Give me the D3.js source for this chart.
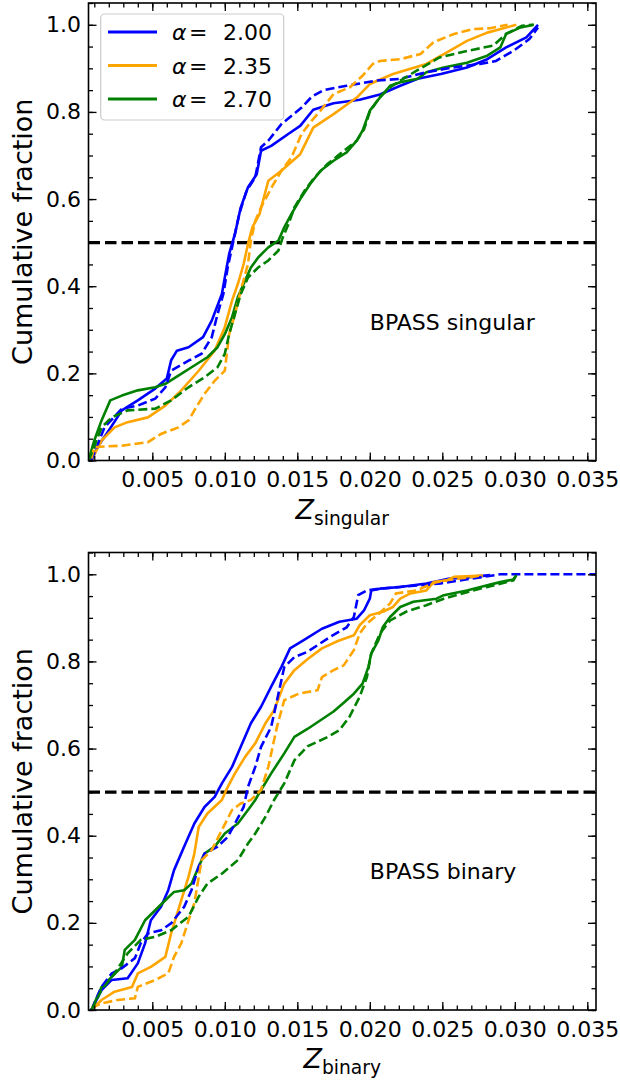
<!DOCTYPE html>
<html>
<head>
<meta charset="utf-8">
<script src="https://cdn.jsdelivr.net/npm/d3@7"></script>
<style>
  body { margin: 0; background: #fff; }
  text { font-family: "DejaVu Sans", sans-serif; }
</style>
</head>
<body>
<script>
// tick values
var xTicks = [0.005, 0.010, 0.015, 0.020, 0.025, 0.030, 0.035];
var yTicks = [0.0, 0.2, 0.4, 0.6, 0.8, 1.0];
var alphas = ["2.00", "2.35", "2.70"];
var colors = ["#0000ff", "#ffa500", "#008000"];

// cumulative fractions, [Z, fraction]
// BPASS singular
var singA200 = [[0.0008,0],[0.0012,0.03],[0.0020,0.069],[0.0029,0.115],[0.0040,0.138],[0.0052,0.165],[0.0060,0.188],[0.0063,0.23],[0.0067,0.252],[0.0075,0.26],[0.0085,0.283],[0.0091,0.321],[0.0098,0.382],[0.0100,0.42],[0.0103,0.474],[0.0107,0.52],[0.0111,0.581],[0.0116,0.627],[0.0122,0.657],[0.0125,0.711],[0.0132,0.722],[0.0144,0.75],[0.0152,0.768],[0.0161,0.805],[0.0175,0.82],[0.0193,0.828],[0.0207,0.84],[0.0221,0.86],[0.0233,0.876],[0.0249,0.887],[0.0267,0.902],[0.0281,0.921],[0.0294,0.948],[0.0308,0.971],[0.0316,1.0]];
var singA200d = [[0.0008,0],[0.0017,0.076],[0.0029,0.119],[0.0040,0.126],[0.0052,0.142],[0.0059,0.168],[0.0063,0.206],[0.0075,0.229],[0.0084,0.245],[0.0091,0.283],[0.0095,0.336],[0.0099,0.382],[0.0102,0.443],[0.0106,0.505],[0.0110,0.566],[0.0115,0.619],[0.0121,0.65],[0.0125,0.719],[0.0130,0.734],[0.0139,0.772],[0.0153,0.81],[0.0160,0.835],[0.0168,0.85],[0.0184,0.86],[0.0205,0.872],[0.0221,0.876],[0.0239,0.891],[0.0257,0.902],[0.0276,0.91],[0.0287,0.917],[0.0299,0.94],[0.0310,0.967],[0.0316,0.994]];
var singA235 = [[0.0008,0],[0.0015,0.046],[0.0024,0.076],[0.0033,0.088],[0.0047,0.099],[0.0059,0.126],[0.0070,0.161],[0.0082,0.206],[0.0093,0.252],[0.0100,0.306],[0.0105,0.367],[0.0109,0.405],[0.0113,0.451],[0.0116,0.497],[0.0119,0.535],[0.0124,0.566],[0.0130,0.642],[0.0139,0.665],[0.0152,0.703],[0.0161,0.764],[0.0175,0.795],[0.0191,0.833],[0.0200,0.864],[0.0216,0.887],[0.0239,0.91],[0.0255,0.94],[0.0267,0.963],[0.0281,0.982],[0.0301,1.0]];
var singA235d = [[0.0008,0.005],[0.0010,0.031],[0.0029,0.034],[0.0047,0.042],[0.0056,0.061],[0.0068,0.076],[0.0075,0.092],[0.0079,0.115],[0.0086,0.153],[0.0093,0.183],[0.0100,0.206],[0.0103,0.29],[0.0107,0.336],[0.0111,0.39],[0.0116,0.451],[0.0118,0.505],[0.0121,0.55],[0.0125,0.581],[0.0132,0.625],[0.0139,0.665],[0.0146,0.696],[0.0153,0.75],[0.0160,0.78],[0.0166,0.803],[0.0175,0.841],[0.0186,0.856],[0.0195,0.883],[0.0202,0.91],[0.0207,0.917],[0.0221,0.921],[0.0235,0.933],[0.0244,0.96],[0.0258,0.979],[0.0271,0.99],[0.0283,0.992],[0.0295,1.0]];
var singA270 = [[0.0006,0],[0.0010,0.046],[0.0015,0.092],[0.0021,0.138],[0.0029,0.149],[0.0040,0.161],[0.0052,0.168],[0.0059,0.176],[0.0068,0.195],[0.0079,0.218],[0.0088,0.237],[0.0095,0.26],[0.0100,0.29],[0.0105,0.329],[0.0109,0.375],[0.0114,0.413],[0.0118,0.443],[0.0123,0.466],[0.0130,0.489],[0.0137,0.505],[0.0141,0.535],[0.0146,0.566],[0.0152,0.60],[0.0159,0.635],[0.0166,0.665],[0.0175,0.688],[0.0184,0.707],[0.0191,0.734],[0.0195,0.757],[0.0200,0.803],[0.0207,0.833],[0.0214,0.86],[0.0221,0.868],[0.0233,0.876],[0.0239,0.891],[0.0251,0.902],[0.0267,0.913],[0.0281,0.929],[0.0290,0.948],[0.0294,0.979],[0.0304,0.994],[0.0313,1.0]];
var singA270d = [[0.0006,0],[0.0008,0.015],[0.0015,0.076],[0.0022,0.099],[0.0033,0.115],[0.0052,0.119],[0.0063,0.138],[0.0075,0.168],[0.0086,0.191],[0.0095,0.214],[0.0100,0.245],[0.0103,0.29],[0.0107,0.336],[0.0111,0.382],[0.0116,0.42],[0.0123,0.443],[0.0130,0.459],[0.0137,0.482],[0.0140,0.512],[0.0144,0.543],[0.0148,0.581],[0.0155,0.619],[0.0162,0.65],[0.0171,0.681],[0.0180,0.705],[0.0191,0.734],[0.0196,0.76],[0.0200,0.80],[0.0207,0.835],[0.0214,0.856],[0.0221,0.872],[0.0232,0.894],[0.0248,0.925],[0.0267,0.94],[0.0285,0.952],[0.0294,0.979],[0.0305,0.998],[0.0313,1.0]];

// BPASS binary
var binA200 = [[0.0008,0],[0.0015,0.046],[0.0022,0.069],[0.0033,0.073],[0.0040,0.107],[0.0045,0.153],[0.0049,0.206],[0.0056,0.237],[0.0061,0.275],[0.0065,0.321],[0.0072,0.375],[0.0079,0.428],[0.0086,0.466],[0.0093,0.489],[0.0098,0.52],[0.0105,0.558],[0.0111,0.604],[0.0118,0.658],[0.0125,0.696],[0.0132,0.742],[0.0139,0.787],[0.0145,0.83],[0.0155,0.85],[0.0167,0.875],[0.0179,0.891],[0.0191,0.898],[0.0196,0.917],[0.0200,0.944],[0.0201,0.963],[0.0207,0.967],[0.0221,0.971],[0.0239,0.979],[0.0255,0.99],[0.0271,0.994],[0.0283,0.998]];
var binA200d = [[0.0008,0],[0.0015,0.053],[0.0022,0.084],[0.0029,0.096],[0.0038,0.119],[0.0042,0.153],[0.0047,0.176],[0.0056,0.183],[0.0063,0.199],[0.0072,0.237],[0.0077,0.275],[0.0082,0.329],[0.0086,0.359],[0.0095,0.375],[0.0102,0.397],[0.0107,0.428],[0.0113,0.466],[0.0116,0.512],[0.0121,0.558],[0.0125,0.604],[0.0132,0.65],[0.0137,0.726],[0.0141,0.787],[0.0148,0.81],[0.0157,0.822],[0.0172,0.855],[0.0184,0.878],[0.0189,0.902],[0.0192,0.952],[0.0198,0.963],[0.0207,0.967],[0.0249,0.979],[0.0262,0.986],[0.0280,0.995],[0.0290,1.0],[0.0360,1.0]];
var binA235 = [[0.0008,0],[0.0015,0.023],[0.0024,0.042],[0.0036,0.053],[0.0040,0.084],[0.0049,0.099],[0.0059,0.122],[0.0063,0.176],[0.0070,0.252],[0.0075,0.306],[0.0079,0.359],[0.0082,0.42],[0.0088,0.451],[0.0098,0.482],[0.0101,0.505],[0.0107,0.543],[0.0114,0.581],[0.0121,0.612],[0.0128,0.658],[0.0134,0.688],[0.0141,0.749],[0.0148,0.78],[0.0157,0.805],[0.0167,0.83],[0.0178,0.847],[0.0189,0.86],[0.0193,0.883],[0.0200,0.906],[0.0209,0.914],[0.0216,0.925],[0.0221,0.944],[0.0228,0.956],[0.0239,0.963],[0.0244,0.982],[0.0253,0.986],[0.0258,0.994],[0.0278,0.997]];
var binA235d = [[0.0008,0.005],[0.0015,0.015],[0.0026,0.023],[0.0038,0.027],[0.0040,0.053],[0.0052,0.069],[0.0061,0.084],[0.0065,0.122],[0.0070,0.153],[0.0075,0.206],[0.0079,0.245],[0.0084,0.344],[0.0091,0.367],[0.0098,0.413],[0.0105,0.459],[0.0111,0.474],[0.0118,0.482],[0.0125,0.505],[0.0130,0.558],[0.0136,0.65],[0.0141,0.711],[0.0151,0.726],[0.0164,0.734],[0.0167,0.764],[0.0175,0.78],[0.0182,0.791],[0.0189,0.826],[0.0193,0.864],[0.0198,0.887],[0.0205,0.906],[0.0214,0.933],[0.0218,0.956],[0.0232,0.963],[0.0246,0.982],[0.0260,0.99],[0.0271,0.994],[0.0278,0.998]];
var binA270 = [[0.0008,0],[0.0015,0.053],[0.0022,0.076],[0.0029,0.099],[0.0031,0.138],[0.0038,0.161],[0.0045,0.206],[0.0052,0.229],[0.0059,0.252],[0.0065,0.271],[0.0072,0.275],[0.0077,0.29],[0.0082,0.329],[0.0086,0.359],[0.0093,0.375],[0.0100,0.405],[0.0109,0.428],[0.0116,0.459],[0.0121,0.482],[0.0125,0.505],[0.0132,0.543],[0.0141,0.589],[0.0148,0.627],[0.0157,0.645],[0.0166,0.665],[0.0175,0.685],[0.0182,0.705],[0.0189,0.726],[0.0195,0.749],[0.0199,0.787],[0.0201,0.818],[0.0206,0.849],[0.0209,0.879],[0.0214,0.902],[0.0221,0.925],[0.0230,0.937],[0.0246,0.944],[0.0251,0.952],[0.0267,0.963],[0.0281,0.975],[0.0290,0.982],[0.0299,0.988],[0.0301,0.998]];
var binA270d = [[0.0008,0],[0.0015,0.046],[0.0024,0.084],[0.0033,0.13],[0.0042,0.161],[0.0052,0.168],[0.0063,0.183],[0.0075,0.214],[0.0082,0.26],[0.0088,0.29],[0.0098,0.313],[0.0109,0.344],[0.0116,0.382],[0.0121,0.405],[0.0128,0.443],[0.0134,0.482],[0.0141,0.52],[0.0148,0.573],[0.0157,0.605],[0.0170,0.625],[0.0179,0.642],[0.0186,0.673],[0.0193,0.719],[0.0198,0.764],[0.0201,0.818],[0.0207,0.864],[0.0214,0.894],[0.0225,0.914],[0.0239,0.929],[0.0251,0.944],[0.0267,0.959],[0.0281,0.971],[0.0299,0.986],[0.0301,0.998]];

var W = 620, H = 1082,
    left = 88.5, right = 596,
    panelH = 457.5;

var svg = d3.select("body").append("svg")
  .attr("width", W).attr("height", H);

var x = d3.scaleLinear().domain([0.0006, 0.0356]).range([left, right]);

function drawPanel(top, solids, dashes, sub, note, withLegend, id) {
  var bottom = top + panelH;
  var y = d3.scaleLinear().domain([0, 1.05]).range([bottom, top]);
  var g = svg.append("g");

  g.append("clipPath").attr("id", id)
    .append("rect").attr("x", left).attr("y", top)
    .attr("width", right - left).attr("height", panelH);

  var line = d3.line().x(function (d) { return x(d[0]); }).y(function (d) { return y(d[1]); });
  var plot = g.append("g").attr("clip-path", "url(#" + id + ")");

  // median line
  plot.append("line")
    .attr("x1", left).attr("x2", right)
    .attr("y1", y(0.5)).attr("y2", y(0.5))
    .attr("stroke", "#000").attr("stroke-width", 3.2)
    .attr("stroke-dasharray", "11.5,5");

  // solid first, dashed on top
  solids.forEach(function (s, i) {
    plot.append("path").datum(s).attr("d", line)
      .attr("fill", "none").attr("stroke", colors[i])
      .attr("stroke-width", 2.6).attr("stroke-linejoin", "round");
  });
  dashes.forEach(function (s, i) {
    plot.append("path").datum(s).attr("d", line)
      .attr("fill", "none").attr("stroke", colors[i])
      .attr("stroke-width", 2.6).attr("stroke-dasharray", "9,4");
  });

  // ticks (inward, all four sides)
  var xMinor = d3.range(0.001, 0.0356, 0.001);
  var yMinor = d3.range(0, 1.051, 0.05);

  function ax(axis, tr) {
    var a = g.append("g").attr("transform", tr).call(axis);
    a.select(".domain").remove();
    a.selectAll("line").attr("stroke-width", 1.3);
    return a;
  }

  var xb = ax(d3.axisBottom(x).tickValues(xTicks).tickSize(-8).tickPadding(11)
    .tickFormat(d3.format(".3f")), "translate(0," + bottom + ")");
  ax(d3.axisBottom(x).tickValues(xMinor).tickSize(-4.5).tickFormat(""), "translate(0," + bottom + ")");
  ax(d3.axisTop(x).tickValues(xTicks).tickSize(-8).tickFormat(""), "translate(0," + top + ")");
  ax(d3.axisTop(x).tickValues(xMinor).tickSize(-4.5).tickFormat(""), "translate(0," + top + ")");

  var yl = ax(d3.axisLeft(y).tickValues(yTicks).tickSize(-8).tickPadding(7.5)
    .tickFormat(d3.format(".1f")), "translate(" + left + ",0)");
  ax(d3.axisLeft(y).tickValues(yMinor).tickSize(-4.5).tickFormat(""), "translate(" + left + ",0)");
  ax(d3.axisRight(y).tickValues(yTicks).tickSize(-8).tickFormat(""), "translate(" + right + ",0)");
  ax(d3.axisRight(y).tickValues(yMinor).tickSize(-4.5).tickFormat(""), "translate(" + right + ",0)");

  xb.selectAll("text").attr("font-size", 22).attr("fill", "#000").attr("font-family", "DejaVu Sans");
  yl.selectAll("text").attr("font-size", 22).attr("fill", "#000").attr("font-family", "DejaVu Sans");

  // frame
  g.append("rect").attr("x", left).attr("y", top)
    .attr("width", right - left).attr("height", panelH)
    .attr("fill", "none").attr("stroke", "#000").attr("stroke-width", 1.6);

  // labels
  g.append("text")
    .attr("transform", "translate(32," + (top + panelH / 2) + ") rotate(-90)")
    .attr("text-anchor", "middle").attr("font-size", 27)
    .text("Cumulative fraction");

  var xl = g.append("text").attr("x", (left + right) / 2).attr("y", bottom + 58)
    .attr("text-anchor", "middle").attr("font-size", 27);
  xl.append("tspan").attr("font-style", "italic").text("Z");
  xl.append("tspan").attr("font-size", 18.7).attr("dy", 6).text(sub);

  g.append("text").attr("x", x(0.02)).attr("y", y(0.3))
    .attr("font-size", 22).text(note);

  if (withLegend) {
    var lg = g.append("g");
    lg.append("rect").attr("x", 100.7).attr("y", top + 11).attr("width", 183).attr("height", 106)
      .attr("rx", 4).attr("fill", "#fff").attr("fill-opacity", 0.8)
      .attr("stroke", "#cccccc").attr("stroke-width", 1.2);
    alphas.forEach(function (a, i) {
      var ly = top + 29 + i * 33.5;
      lg.append("line").attr("x1", 108).attr("x2", 157).attr("y1", ly).attr("y2", ly)
        .attr("stroke", colors[i]).attr("stroke-width", 2.8);
      var t = lg.append("text").attr("y", ly + 8).attr("font-size", 22);
      t.append("tspan").attr("x", 172).attr("font-style", "italic").text("α");
      t.append("tspan").attr("x", 189).text("=");
      t.append("tspan").attr("x", 223).text(a);
    });
  }
}

drawPanel(3, [singA200, singA235, singA270], [singA200d, singA235d, singA270d],
  "singular", "BPASS singular", true, "clipTop");
drawPanel(552.5, [binA200, binA235, binA270], [binA200d, binA235d, binA270d],
  "binary", "BPASS binary", false, "clipBot");
</script>
</body>
</html>
